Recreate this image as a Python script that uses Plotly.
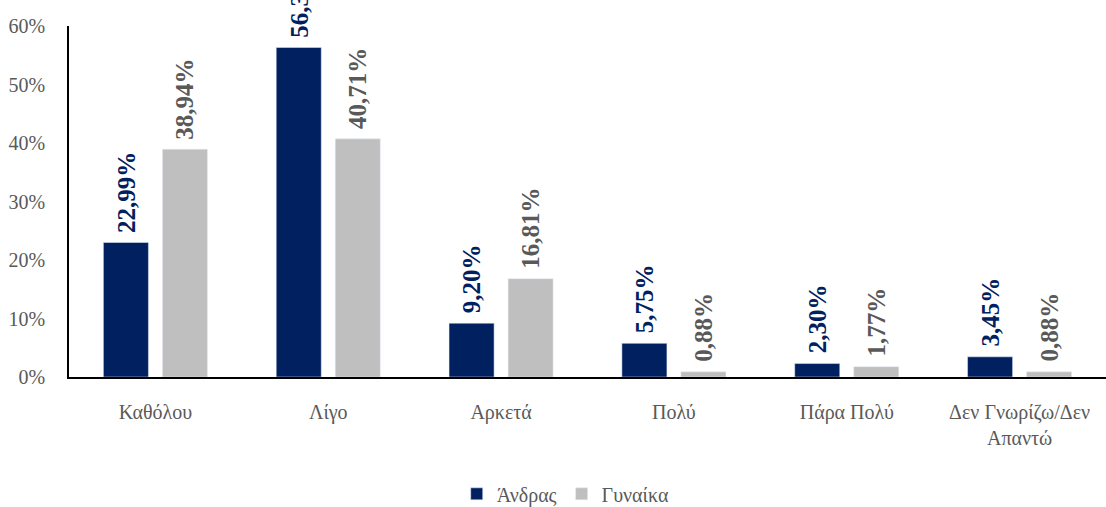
import plotly.graph_objects as go

categories = ["Καθόλου", "Λίγο", "Αρκετά", "Πολύ", "Πάρα Πολύ", "Δεν Γνωρίζω/Δεν<br>Απαντώ"]
men = [22.99, 56.32, 9.20, 5.75, 2.30, 3.45]
women = [38.94, 40.71, 16.81, 0.88, 1.77, 0.88]
y_ticks = [0, 10, 20, 30, 40, 50, 60]
y_tick_labels = [f"{v}%" for v in y_ticks]

NAVY = "#002060"
LIGHT = "#BFBFBF"
TEXT_GRAY = "#595959"
FONT = "Liberation Serif"

BARGAP = 0.317
BARGROUPGAP = 0.237
PLOT_W = 1106 - 69


def pct(v):
    return f"{v:.2f}%".replace(".", ",")


fig = go.Figure()
fig.add_trace(go.Bar(x=categories, y=men, name="Άνδρας", marker=dict(color=NAVY)))
fig.add_trace(go.Bar(x=categories, y=women, name="Γυναίκα", marker=dict(color=LIGHT)))

# value labels: rotated, just above each bar, offset to the bar's slot within the group
slot = PLOT_W / len(categories) * (1 - BARGAP) / 2
for values, color, side in ((men, NAVY, -1), (women, TEXT_GRAY, 1)):
    for cat, v in zip(categories, values):
        fig.add_annotation(
            x=cat, y=v, xref="x", yref="y", text=pct(v), showarrow=False,
            textangle=-90, xanchor="center", yanchor="bottom",
            xshift=side * slot / 2, yshift=8,
            font=dict(family=FONT, size=25, color=color, weight="bold"),
        )

fig.update_layout(
    width=1106, height=507,
    margin=dict(l=69, r=0, t=26, b=130, autoexpand=False),
    paper_bgcolor="white", plot_bgcolor="white",
    barmode="group", bargap=BARGAP, bargroupgap=BARGROUPGAP,
    font=dict(family=FONT, size=20, color=TEXT_GRAY),
    showlegend=True,
    legend=dict(orientation="h", x=0.479, xanchor="center",
                y=0.026, yref="container", yanchor="middle",
                font=dict(family=FONT, size=20, color=TEXT_GRAY),
                itemwidth=30, tracegroupgap=0),
)
fig.update_xaxes(
    showline=True, linecolor="black", linewidth=1.5,
    showgrid=False, ticks="", ticklabelstandoff=16,
    tickfont=dict(family=FONT, size=20, color=TEXT_GRAY),
)
fig.update_yaxes(
    range=[0, 60], tickvals=y_ticks, ticktext=y_tick_labels,
    showline=True, linecolor="black", linewidth=1.5,
    showgrid=False, zeroline=False, ticks="", ticklabelstandoff=18,
    tickfont=dict(family=FONT, size=20, color=TEXT_GRAY),
)

fig.write_html("out.html")
